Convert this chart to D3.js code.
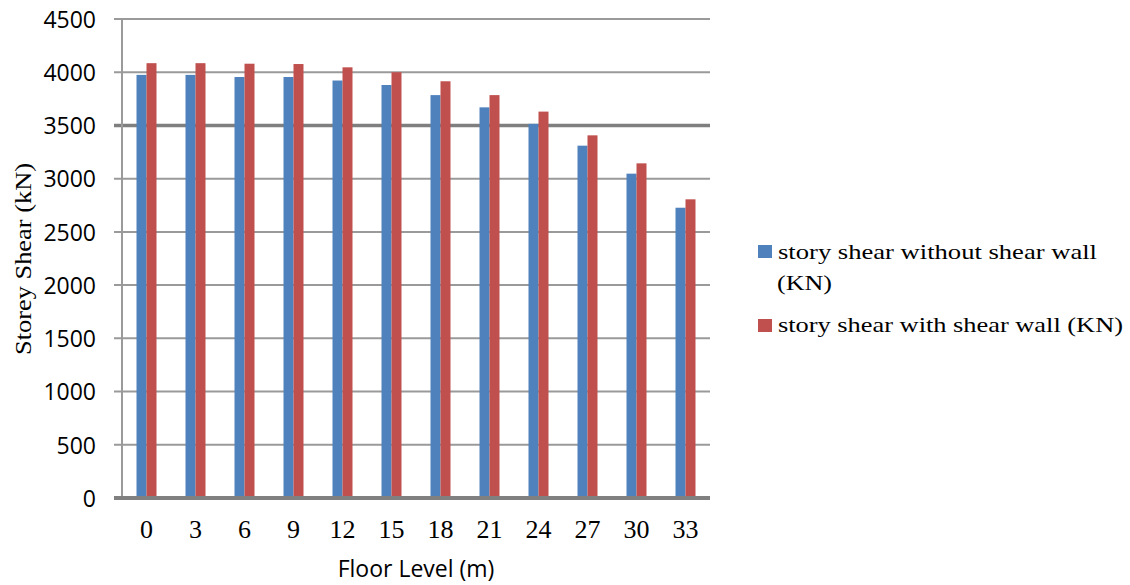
<!DOCTYPE html>
<html>
<head>
<meta charset="utf-8">
<script src="https://cdn.jsdelivr.net/npm/d3@7"></script>
<style>
  html, body { margin: 0; padding: 0; background: #fff; }
  svg { display: block; }
</style>
</head>
<body>
<svg id="chart" width="1130" height="585"></svg>
<script>
// Storey shear per floor level, with and without shear walls
const floors = ["0", "3", "6", "9", "12", "15", "18", "21", "24", "27", "30", "33"];
const withoutWall = [3975, 3975, 3955, 3955, 3922, 3880, 3785, 3670, 3515, 3310, 3047, 2727];
const withWall = [4085, 4085, 4080, 4077, 4046, 4000, 3915, 3785, 3630, 3407, 3144, 2806];
const seriesNames = ["story shear without shear wall (KN)", "story shear with shear wall (KN)"];
const seriesColors = ["#4F81BD", "#C0504D"];
const yTicks = [0, 500, 1000, 1500, 2000, 2500, 3000, 3500, 4000, 4500];

const svg = d3.select("#chart");
const plotLeft = 122, plotRight = 710, plotTop = 19, plotBottom = 498;
const serif = "'Liberation Serif', 'Times New Roman', serif";
const sans = "'Open Sans', 'Liberation Sans', sans-serif";

const x = d3.scaleBand().domain(floors).range([plotLeft, plotRight]).paddingInner(0).paddingOuter(0);
const y = d3.scaleLinear().domain([0, 4500]).range([plotBottom, plotTop]);
const barW = 10;

// gridlines with tick stubs to the left of the axis
svg.append("g").selectAll("line").data(yTicks.filter(d => d > 0)).join("line")
  .attr("x1", plotLeft - 8).attr("x2", plotRight)
  .attr("y1", d => y(d)).attr("y2", d => y(d))
  .attr("stroke", d => d === 3500 ? "#7f7f7f" : "#9a9a9a")
  .attr("stroke-width", d => d === 3500 ? 3.5 : 2);

// y axis tick labels
const yAxis = d3.axisLeft(y).tickValues(yTicks).tickFormat(d3.format("d")).tickSize(0).tickPadding(0);
const ya = svg.append("g").attr("transform", `translate(${plotLeft - 26},0)`).call(yAxis);
ya.select(".domain").remove();
ya.selectAll("text")
  .attr("font-family", sans)
  .attr("font-size", 23).attr("fill", "#000").attr("dy", "0.36em");

// bars
const series = [withoutWall, withWall];
series.forEach((vals, si) => {
  svg.append("g").selectAll("rect").data(floors).join("rect")
    .attr("x", d => x(d) + x.bandwidth() / 2 - barW + si * barW)
    .attr("width", barW)
    .attr("y", (d, i) => y(vals[i]))
    .attr("height", (d, i) => y(0) - y(vals[i]))
    .attr("fill", seriesColors[si]);
});

// left axis line
svg.append("line")
  .attr("x1", plotLeft).attr("x2", plotLeft).attr("y1", plotTop).attr("y2", plotBottom)
  .attr("stroke", "#9a9a9a").attr("stroke-width", 2);
// baseline
svg.append("line")
  .attr("x1", plotLeft - 8).attr("x2", plotRight).attr("y1", y(0)).attr("y2", y(0))
  .attr("stroke", "#808080").attr("stroke-width", 4);

// x axis labels
const xAxis = d3.axisBottom(x).tickSize(0).tickPadding(0);
const xa = svg.append("g").attr("transform", "translate(0,538)").call(xAxis);
xa.select(".domain").remove();
xa.selectAll("text")
  .attr("font-family", serif)
  .attr("font-size", 26).attr("fill", "#000").attr("y", 0).attr("dy", 0);

// axis titles
svg.append("text").attr("x", 416).attr("y", 577).attr("text-anchor", "middle")
  .attr("font-family", sans)
  .attr("font-size", 23).attr("fill", "#000").text("Floor Level (m)");
svg.append("text")
  .attr("transform", "translate(31,259) rotate(-90)")
  .attr("text-anchor", "middle")
  .attr("font-family", serif)
  .attr("font-size", 23).attr("fill", "#000")
  .attr("textLength", 192).attr("lengthAdjust", "spacingAndGlyphs")
  .text("Storey Shear (kN)");

// legend
const lg = svg.append("g").attr("font-family", serif).attr("font-size", 22).attr("fill", "#000");
lg.append("rect").attr("x", 758).attr("y", 245).attr("width", 14).attr("height", 13).attr("fill", seriesColors[0]);
lg.append("text").attr("x", 778).attr("y", 259)
  .attr("textLength", 319).attr("lengthAdjust", "spacingAndGlyphs")
  .text("story shear without shear wall");
lg.append("text").attr("x", 777).attr("y", 290)
  .attr("textLength", 55).attr("lengthAdjust", "spacingAndGlyphs")
  .text("(KN)");
lg.append("rect").attr("x", 758).attr("y", 319).attr("width", 14).attr("height", 13).attr("fill", seriesColors[1]);
lg.append("text").attr("x", 778).attr("y", 332)
  .attr("textLength", 345).attr("lengthAdjust", "spacingAndGlyphs")
  .text(seriesNames[1]);
</script>
</body>
</html>
